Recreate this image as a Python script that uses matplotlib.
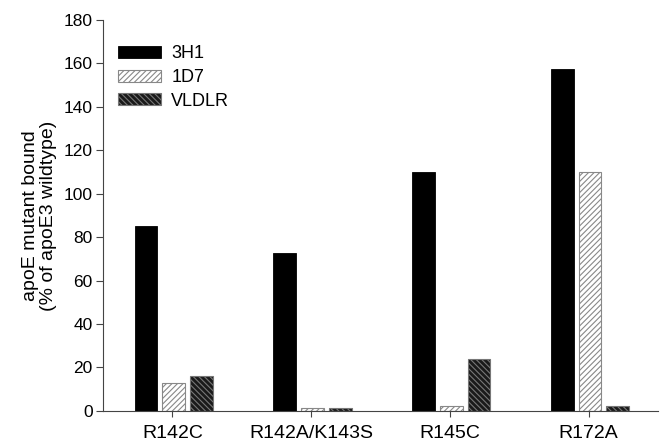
import numpy as np
import matplotlib
matplotlib.use("Agg")
import matplotlib.pyplot as plt

plt.rcParams['font.family'] = ['Liberation Sans', 'DejaVu Sans']
plt.rcParams['hatch.linewidth'] = 0.8

mutants = ["R142C", "R142A/K143S", "R145C", "R172A"]
vals_3h1 = [85, 72.5, 110, 157.5]
vals_1d7 = [13, 1.5, 2, 110]
vals_vldlr = [16, 1.5, 24, 2]

fig = plt.figure(figsize=(6.6, 4.46), dpi=100)
ax = fig.add_axes([0.156, 0.079, 0.841, 0.876])

x = np.arange(len(mutants))
w = 0.165
ax.bar(x - 0.19, vals_3h1, w, color="black", edgecolor="black", linewidth=0.6, label="3H1")
ax.bar(x + 0.01, vals_1d7, w, color="white", edgecolor="#888888", linewidth=0.8, hatch="//////", label="1D7")
ax.bar(x + 0.21, vals_vldlr, w, color="#1a1a1a", edgecolor="#777777", linewidth=0.8, hatch="\\\\\\\\\\\\", label="VLDLR")

ax.set_xlim(-0.5, 3.5)
ax.set_ylim(0, 180)
ax.set_yticks(np.arange(0, 181, 20))
ax.set_xticks(x)
ax.set_xticklabels(mutants, fontsize=14)
ax.tick_params(axis="y", labelsize=12.5, direction="out", length=5, width=0.8, pad=2.5, color="#444444")
ax.tick_params(axis="x", direction="out", length=4, width=0.8, pad=6, color="#444444")
ax.spines["top"].set_visible(False)
ax.spines["right"].set_visible(False)
ax.spines["left"].set_color("#444444")
ax.spines["bottom"].set_color("#444444")
ax.set_ylabel("apoE mutant bound\n(% of apoE3 wildtype)", fontsize=14, labelpad=5, linespacing=1.05)

ax.legend(loc="upper left", bbox_to_anchor=(15 / 555, (411 - 45) / 391), frameon=False, fontsize=13,
          handlelength=2.4, handleheight=0.65, labelspacing=0.38, handletextpad=0.55,
          borderpad=0, borderaxespad=0)

fig.savefig("out.png", dpi=100)
